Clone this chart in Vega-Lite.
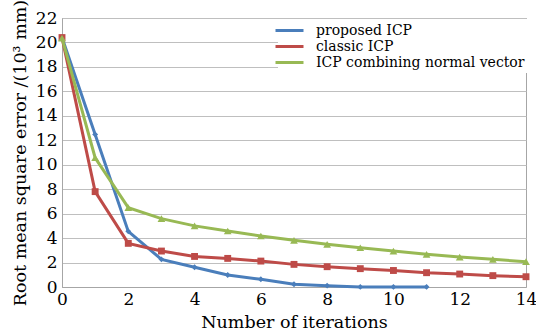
{
  "$schema": "https://vega.github.io/schema/vega-lite/v6.json",
  "width": 464,
  "height": 269,
  "autosize": {"type": "none"},
  "padding": {"left": 62, "top": 18, "right": 10, "bottom": 44},
  "background": "white",
  "config": {
    "font": "DejaVu Serif",
    "view": {"stroke": "#a6a6a6", "strokeWidth": 1},
    "axis": {
      "labelFont": "DejaVu Serif",
      "titleFont": "DejaVu Serif",
      "labelColor": "#000",
      "titleColor": "#000",
      "labelFontSize": 17,
      "titleFontSize": 17.5,
      "titleFontWeight": "normal",
      "ticks": false,
      "labelFlush": false,
      "domainColor": "#a6a6a6",
      "gridColor": "#bfbfbf",
      "gridWidth": 1
    }
  },
  "data": {
    "values": [
      {"iter": 0, "rmse": 20.4, "method": "proposed ICP"},
      {"iter": 1, "rmse": 12.48, "method": "proposed ICP"},
      {"iter": 2, "rmse": 4.55, "method": "proposed ICP"},
      {"iter": 3, "rmse": 2.26, "method": "proposed ICP"},
      {"iter": 4, "rmse": 1.61, "method": "proposed ICP"},
      {"iter": 5, "rmse": 0.98, "method": "proposed ICP"},
      {"iter": 6, "rmse": 0.63, "method": "proposed ICP"},
      {"iter": 7, "rmse": 0.22, "method": "proposed ICP"},
      {"iter": 8, "rmse": 0.11, "method": "proposed ICP"},
      {"iter": 9, "rmse": 0.01, "method": "proposed ICP"},
      {"iter": 10, "rmse": 0.01, "method": "proposed ICP"},
      {"iter": 11, "rmse": 0.01, "method": "proposed ICP"},
      {"iter": 0, "rmse": 20.4, "method": "classic ICP"},
      {"iter": 1, "rmse": 7.8, "method": "classic ICP"},
      {"iter": 2, "rmse": 3.57, "method": "classic ICP"},
      {"iter": 3, "rmse": 2.94, "method": "classic ICP"},
      {"iter": 4, "rmse": 2.5, "method": "classic ICP"},
      {"iter": 5, "rmse": 2.34, "method": "classic ICP"},
      {"iter": 6, "rmse": 2.12, "method": "classic ICP"},
      {"iter": 7, "rmse": 1.85, "method": "classic ICP"},
      {"iter": 8, "rmse": 1.66, "method": "classic ICP"},
      {"iter": 9, "rmse": 1.5, "method": "classic ICP"},
      {"iter": 10, "rmse": 1.35, "method": "classic ICP"},
      {"iter": 11, "rmse": 1.17, "method": "classic ICP"},
      {"iter": 12, "rmse": 1.06, "method": "classic ICP"},
      {"iter": 13, "rmse": 0.93, "method": "classic ICP"},
      {"iter": 14, "rmse": 0.84, "method": "classic ICP"},
      {"iter": 0, "rmse": 20.35, "method": "ICP combining normal vector"},
      {"iter": 1, "rmse": 10.57, "method": "ICP combining normal vector"},
      {"iter": 2, "rmse": 6.49, "method": "ICP combining normal vector"},
      {"iter": 3, "rmse": 5.59, "method": "ICP combining normal vector"},
      {"iter": 4, "rmse": 5.0, "method": "ICP combining normal vector"},
      {"iter": 5, "rmse": 4.58, "method": "ICP combining normal vector"},
      {"iter": 6, "rmse": 4.17, "method": "ICP combining normal vector"},
      {"iter": 7, "rmse": 3.82, "method": "ICP combining normal vector"},
      {"iter": 8, "rmse": 3.49, "method": "ICP combining normal vector"},
      {"iter": 9, "rmse": 3.21, "method": "ICP combining normal vector"},
      {"iter": 10, "rmse": 2.94, "method": "ICP combining normal vector"},
      {"iter": 11, "rmse": 2.67, "method": "ICP combining normal vector"},
      {"iter": 12, "rmse": 2.45, "method": "ICP combining normal vector"},
      {"iter": 13, "rmse": 2.26, "method": "ICP combining normal vector"},
      {"iter": 14, "rmse": 2.07, "method": "ICP combining normal vector"}
    ]
  },
  "encoding": {
    "x": {
      "field": "iter", "type": "quantitative",
      "scale": {"domain": [0, 14], "nice": false},
      "axis": {"values": [0, 2, 4, 6, 8, 10, 12, 14], "grid": false, "labelPadding": 4, "title": "Number of iterations", "titlePadding": 6}
    },
    "y": {
      "field": "rmse", "type": "quantitative",
      "scale": {"domain": [0, 22], "nice": false},
      "axis": {"values": [0, 2, 4, 6, 8, 10, 12, 14, 16, 18, 20, 22], "labelPadding": 5, "title": "Root mean square error /(10³ mm)", "titlePadding": 6}
    }
  },
  "resolve": {"legend": {"color": "independent"}},
  "layer": [
    {
      "mark": {"type": "line", "strokeWidth": 3},
      "encoding": {
        "color": {
          "field": "method", "type": "nominal",
          "scale": {
            "domain": ["proposed ICP", "classic ICP", "ICP combining normal vector"],
            "range": ["#4a7ebb", "#be4b48", "#98b954"]
          },
          "legend": {
            "title": null,
            "orient": "none",
            "legendX": 216,
            "legendY": 1,
            "fillColor": "white",
            "padding": 3,
            "labelFont": "DejaVu Serif",
            "labelFontSize": 14,
            "labelColor": "#000",
            "labelLimit": 0,
            "symbolType": "M-2,0H2",
            "symbolSize": 196,
            "symbolStrokeWidth": 3,
            "rowPadding": -1,
            "labelOffset": 18
          }
        }
      }
    },
    {
      "mark": {"type": "point", "filled": true, "opacity": 1},
      "encoding": {
        "color": {
          "field": "method", "type": "nominal",
          "legend": null
        },
        "shape": {
          "field": "method", "type": "nominal",
          "scale": {
            "domain": ["proposed ICP", "classic ICP", "ICP combining normal vector"],
            "range": ["diamond", "square", "triangle-up"]
          },
          "legend": null
        },
        "size": {
          "field": "method", "type": "nominal",
          "scale": {
            "domain": ["proposed ICP", "classic ICP", "ICP combining normal vector"],
            "range": [35, 60, 55]
          },
          "legend": null
        }
      }
    }
  ]
}
